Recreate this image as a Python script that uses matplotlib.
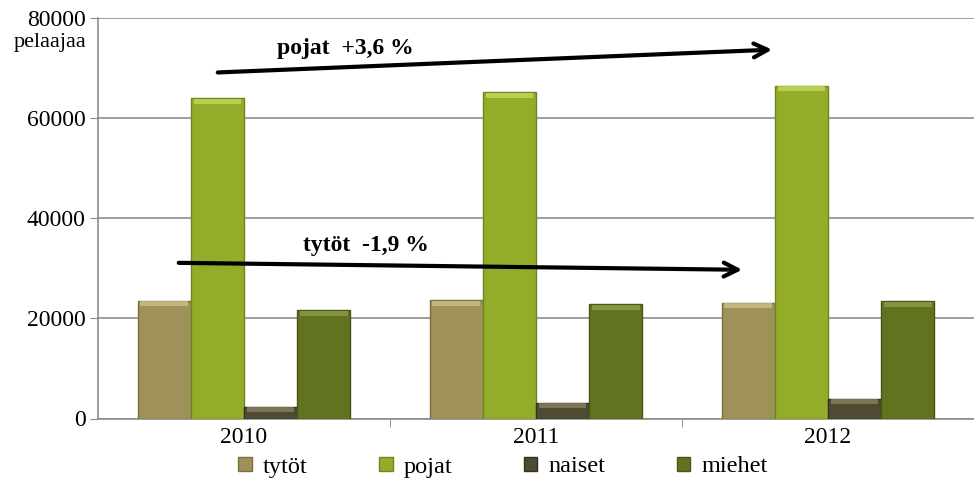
import matplotlib
matplotlib.use("Agg")
import matplotlib.pyplot as plt
import numpy as np
from matplotlib.patches import Patch

years = ["2010", "2011", "2012"]
series = ["tytöt", "pojat", "naiset", "miehet"]
tytot = [23560, 23700, 23160]
pojat = [64040, 65160, 66500]
naiset = [2360, 3160, 3950]
miehet = [21700, 22840, 23520]
yticks = [0, 20000, 40000, 60000, 80000]

values = [tytot, pojat, naiset, miehet]
colors = ["#9E9159", "#93AD2A", "#4F4A33", "#62731F"]
tops = ["#CFC48E", "#C5DC5C", "#8A8463", "#8FA24A"]
edges = ["#7A6F3E", "#6F8520", "#35311F", "#48561A"]

SERIF = ['Liberation Serif', 'DejaVu Serif']
plt.rcParams['font.family'] = SERIF

fig = plt.figure(figsize=(9.74, 4.88), dpi=100)
ax = fig.add_axes([98/974, 1 - 418.5/488, 1 - 98/974, (418.5 - 18)/488])

x = np.arange(len(years))
w = 0.182
offs = (np.arange(4) - 1.5) * w
for i in range(4):
    ax.bar(x + offs[i], values[i], w, color=colors[i], edgecolor=edges[i],
           linewidth=1.0, zorder=3)
    bev = 1000
    ax.bar(x + offs[i], [bev] * 3, w * 0.9, bottom=np.array(values[i]) - bev - 150,
           color=tops[i], linewidth=0, zorder=4, alpha=0.75)

ax.set_xlim(-0.5, 2.5)
ax.set_ylim(0, 80000)
ax.set_yticks(yticks)
ax.set_yticklabels([str(v) for v in yticks], fontsize=17, family=SERIF)
ax.set_xticks(x)
ax.set_xticklabels(years, fontsize=17, family=SERIF)
ax.set_xticks([0.5, 1.5], minor=True)
ax.tick_params(axis='x', which='major', length=0, pad=6)
ax.tick_params(axis='x', which='minor', length=6, color='#888888', direction='out')
ax.tick_params(axis='y', length=6, color='#888888', direction='out', pad=3)
ax.grid(axis='y', color='#8C8C8C', linewidth=1.2, zorder=0)
ax.set_axisbelow(True)
for s in ['top', 'right']:
    ax.spines[s].set_visible(False)
for s in ['left', 'bottom']:
    ax.spines[s].set_color('#8C8C8C')
    ax.spines[s].set_linewidth(1.2)

fig.text(50/974, 1 - 43/488, "pelaajaa", fontsize=16, family=SERIF, ha='center', va='center')

ax.annotate("", xy=(1.8185, 73700), xytext=(-0.0993, 69100),
            arrowprops=dict(arrowstyle='->,head_length=1.0,head_width=0.5', color='black', lw=3),
            zorder=6)
ax.annotate("", xy=(1.7158, 29700), xytext=(-0.233, 31100),
            arrowprops=dict(arrowstyle='->,head_length=1.0,head_width=0.5', color='black', lw=3),
            zorder=6)
ax.text(0.113, 73900, "pojat  +3,6 %", fontsize=17, fontweight='bold', family=SERIF,
        ha='left', va='center', zorder=7)
ax.text(0.202, 34500, "tytöt  -1,9 %", fontsize=17, fontweight='bold', family=SERIF,
        ha='left', va='center', zorder=7)

handles = [Patch(facecolor=colors[i], edgecolor=edges[i]) for i in range(4)]
leg = fig.legend(handles, series, loc='center', bbox_to_anchor=(503/974, 1 - 467/488), ncol=4,
                 frameon=False, prop={'family': SERIF, 'size': 17.5},
                 handlelength=0.55, handleheight=0.55,
                 handletextpad=0.45, columnspacing=2.95)

fig.savefig("out.png", dpi=100)
